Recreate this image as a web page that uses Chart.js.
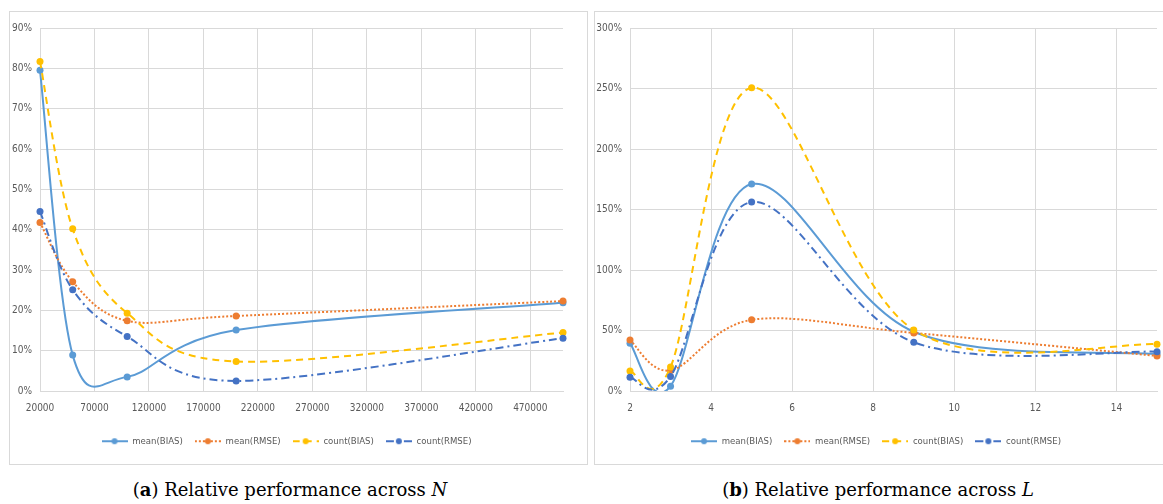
<!DOCTYPE html>
<html><head><meta charset="utf-8">
<script src="https://cdn.jsdelivr.net/npm/chart.js@4.4.1/dist/chart.umd.min.js"></script>
<style>
html,body{margin:0;padding:0;background:#fff;}
body{width:1163px;height:504px;overflow:hidden;position:relative;}
.box{position:absolute;top:11px;width:577px;height:452px;border:1px solid #d9d9d9;background:#fff;}
#boxA{left:9px;} #boxB{left:594px;}
.box canvas{display:block;}
.cap{position:absolute;top:479px;height:22px;line-height:22px;font-family:'DejaVu Serif','Liberation Serif',serif;font-size:18px;color:#000;text-align:center;white-space:nowrap;}
#capA{left:0;width:580px;} #capB{left:594px;width:568px;}
</style></head>
<body>
<div class="box" id="boxA"><canvas id="chartA" width="577" height="452"></canvas></div>
<div class="box" id="boxB"><canvas id="chartB" width="577" height="452"></canvas></div>
<div class="cap" id="capA">(<b>a</b>) Relative performance across <i>N</i></div>
<div class="cap" id="capB">(<b>b</b>) Relative performance across <i>L</i></div>
<script>
// ---- data ----
const seriesNames = ['mean(BIAS)', 'mean(RMSE)', 'count(BIAS)', 'count(RMSE)'];

const nValues = [20000, 50000, 100000, 200000, 500000];
const nTicks = [20000, 70000, 120000, 170000, 220000, 270000, 320000, 370000, 420000, 470000];
const nYTicks = [0, 10, 20, 30, 40, 50, 60, 70, 80, 90];
const nMeanBias = [79.5, 8.9, 3.5, 15.1, 21.9];
const nMeanRmse = [41.8, 27.1, 17.4, 18.6, 22.3];
const nCountBias = [81.7, 40.2, 19.3, 7.3, 14.5];
const nCountRmse = [44.5, 25.1, 13.5, 2.5, 13.1];

const lValues = [2, 3, 5, 9, 15];
const lTicks = [2, 4, 6, 8, 10, 12, 14];
const lYTicks = [0, 50, 100, 150, 200, 250, 300];
const lMeanBias = [39.5, 4, 171, 49, 30.6];
const lMeanRmse = [42.2, 17, 58.8, 48, 29];
const lCountBias = [16.5, 19.8, 250.6, 50.5, 38.7];
const lCountRmse = [11.3, 12, 156.2, 40.3, 32.5];

// ---- styles ----
const colors = ['#5B9BD5', '#ED7D31', '#FFC000', '#4472C4'];
const dashes = [[], [2, 2], [7, 5], [8, 4, 2, 4]];
const FONT = "'DejaVu Sans Condensed','Liberation Sans',sans-serif";
const TICK_COLOR = '#595959';
const GRID = '#d9d9d9';
const SMOOTH = 1 / 6;

// Excel-like smoothing: uniform Catmull-Rom control points on the library's pixel positions
const excelSmooth = {
  id: 'excelSmooth',
  beforeDatasetDraw(chart, args) {
    const meta = args.meta;
    const pts = meta.data;
    const n = pts.length;
    for (let i = 0; i < n; i++) {
      const p = pts[i];
      const prev = pts[Math.max(0, i - 1)];
      const next = pts[Math.min(n - 1, i + 1)];
      const dx = (next.x - prev.x) * SMOOTH, dy = (next.y - prev.y) * SMOOTH;
      p.cp1x = p.x - dx; p.cp1y = p.y - dy;
      p.cp2x = p.x + dx; p.cp2y = p.y + dy;
    }
    meta.dataset._pointsUpdated = true;
  }
};

function legendIcon(i) {
  const c = document.createElement('canvas');
  c.width = 26; c.height = 8;
  const g = c.getContext('2d');
  g.strokeStyle = colors[i]; g.lineWidth = 2;
  g.setLineDash(dashes[i]);
  g.beginPath(); g.moveTo(0, 4); g.lineTo(26, 4); g.stroke();
  g.setLineDash([]);
  g.fillStyle = colors[i];
  g.beginPath(); g.arc(13, 4, 3, 0, Math.PI * 2); g.fill();
  return c;
}

function makeDatasets(xs, arrays) {
  return arrays.map((arr, i) => ({
    label: seriesNames[i],
    data: arr.map((v, k) => ({x: xs[k], y: v})),
    borderColor: colors[i],
    backgroundColor: colors[i],
    borderWidth: 2,
    borderDash: dashes[i],
    pointRadius: 3.5,
    pointBorderWidth: 0,
    pointBackgroundColor: colors[i],
    tension: 0.4,
    fill: false,
    order: 4 - i,
    clip: {left: 6, top: 6, right: 6, bottom: 0}
  }));
}

function makeChart(id, xs, arrays, xMin, xMax, xTicks, yMax, yTicks, yWidth, padRight) {
  return new Chart(document.getElementById(id), {
    type: 'line',
    data: {datasets: makeDatasets(xs, arrays)},
    plugins: [excelSmooth],
    options: {
      responsive: false,
      animation: false,
      layout: {padding: {top: 16, right: padRight, bottom: 8, left: 0}},
      elements: {line: {capBezierPoints: false}},
      plugins: {
        tooltip: {enabled: false},
        legend: {
          position: 'bottom',
          labels: {
            usePointStyle: true,
            pointStyleWidth: 26,
            padding: 12,
            color: TICK_COLOR,
            font: {family: FONT, size: 9.5},
            generateLabels: (chart) => chart.data.datasets.map((ds, i) => ({
              text: ds.label,
              pointStyle: legendIcon(i),
              fillStyle: 'transparent',
              strokeStyle: 'transparent',
              lineWidth: 0,
              hidden: false,
              datasetIndex: i,
              fontColor: TICK_COLOR
            }))
          }
        }
      },
      scales: {
        x: {
          type: 'linear',
          min: xMin, max: xMax,
          afterBuildTicks: (s) => { s.ticks = xTicks.map(v => ({value: v})); },
          afterFit: (s) => { s.height = 33.5; },
          grid: {color: GRID, drawTicks: false},
          border: {color: GRID},
          ticks: {color: TICK_COLOR, font: {family: FONT, size: 10}, padding: 11, maxRotation: 0, autoSkip: false,
            callback: (v) => String(v)}
        },
        y: {
          min: 0, max: yMax,
          afterBuildTicks: (s) => { s.ticks = yTicks.map(v => ({value: v})); },
          afterFit: (s) => { s.width = yWidth; },
          grid: {color: GRID, drawTicks: false},
          border: {color: GRID},
          ticks: {color: TICK_COLOR, font: {family: FONT, size: 10}, padding: 8,
            callback: (v) => v + '%'}
        }
      }
    }
  });
}

makeChart('chartA', nValues, [nMeanBias, nMeanRmse, nCountBias, nCountRmse],
  20000, 500000, nTicks, 90, nYTicks, 30, 24);
makeChart('chartB', lValues, [lMeanBias, lMeanRmse, lCountBias, lCountRmse],
  2, 15, lTicks, 300, lYTicks, 35, 15);
</script>
</body></html>
